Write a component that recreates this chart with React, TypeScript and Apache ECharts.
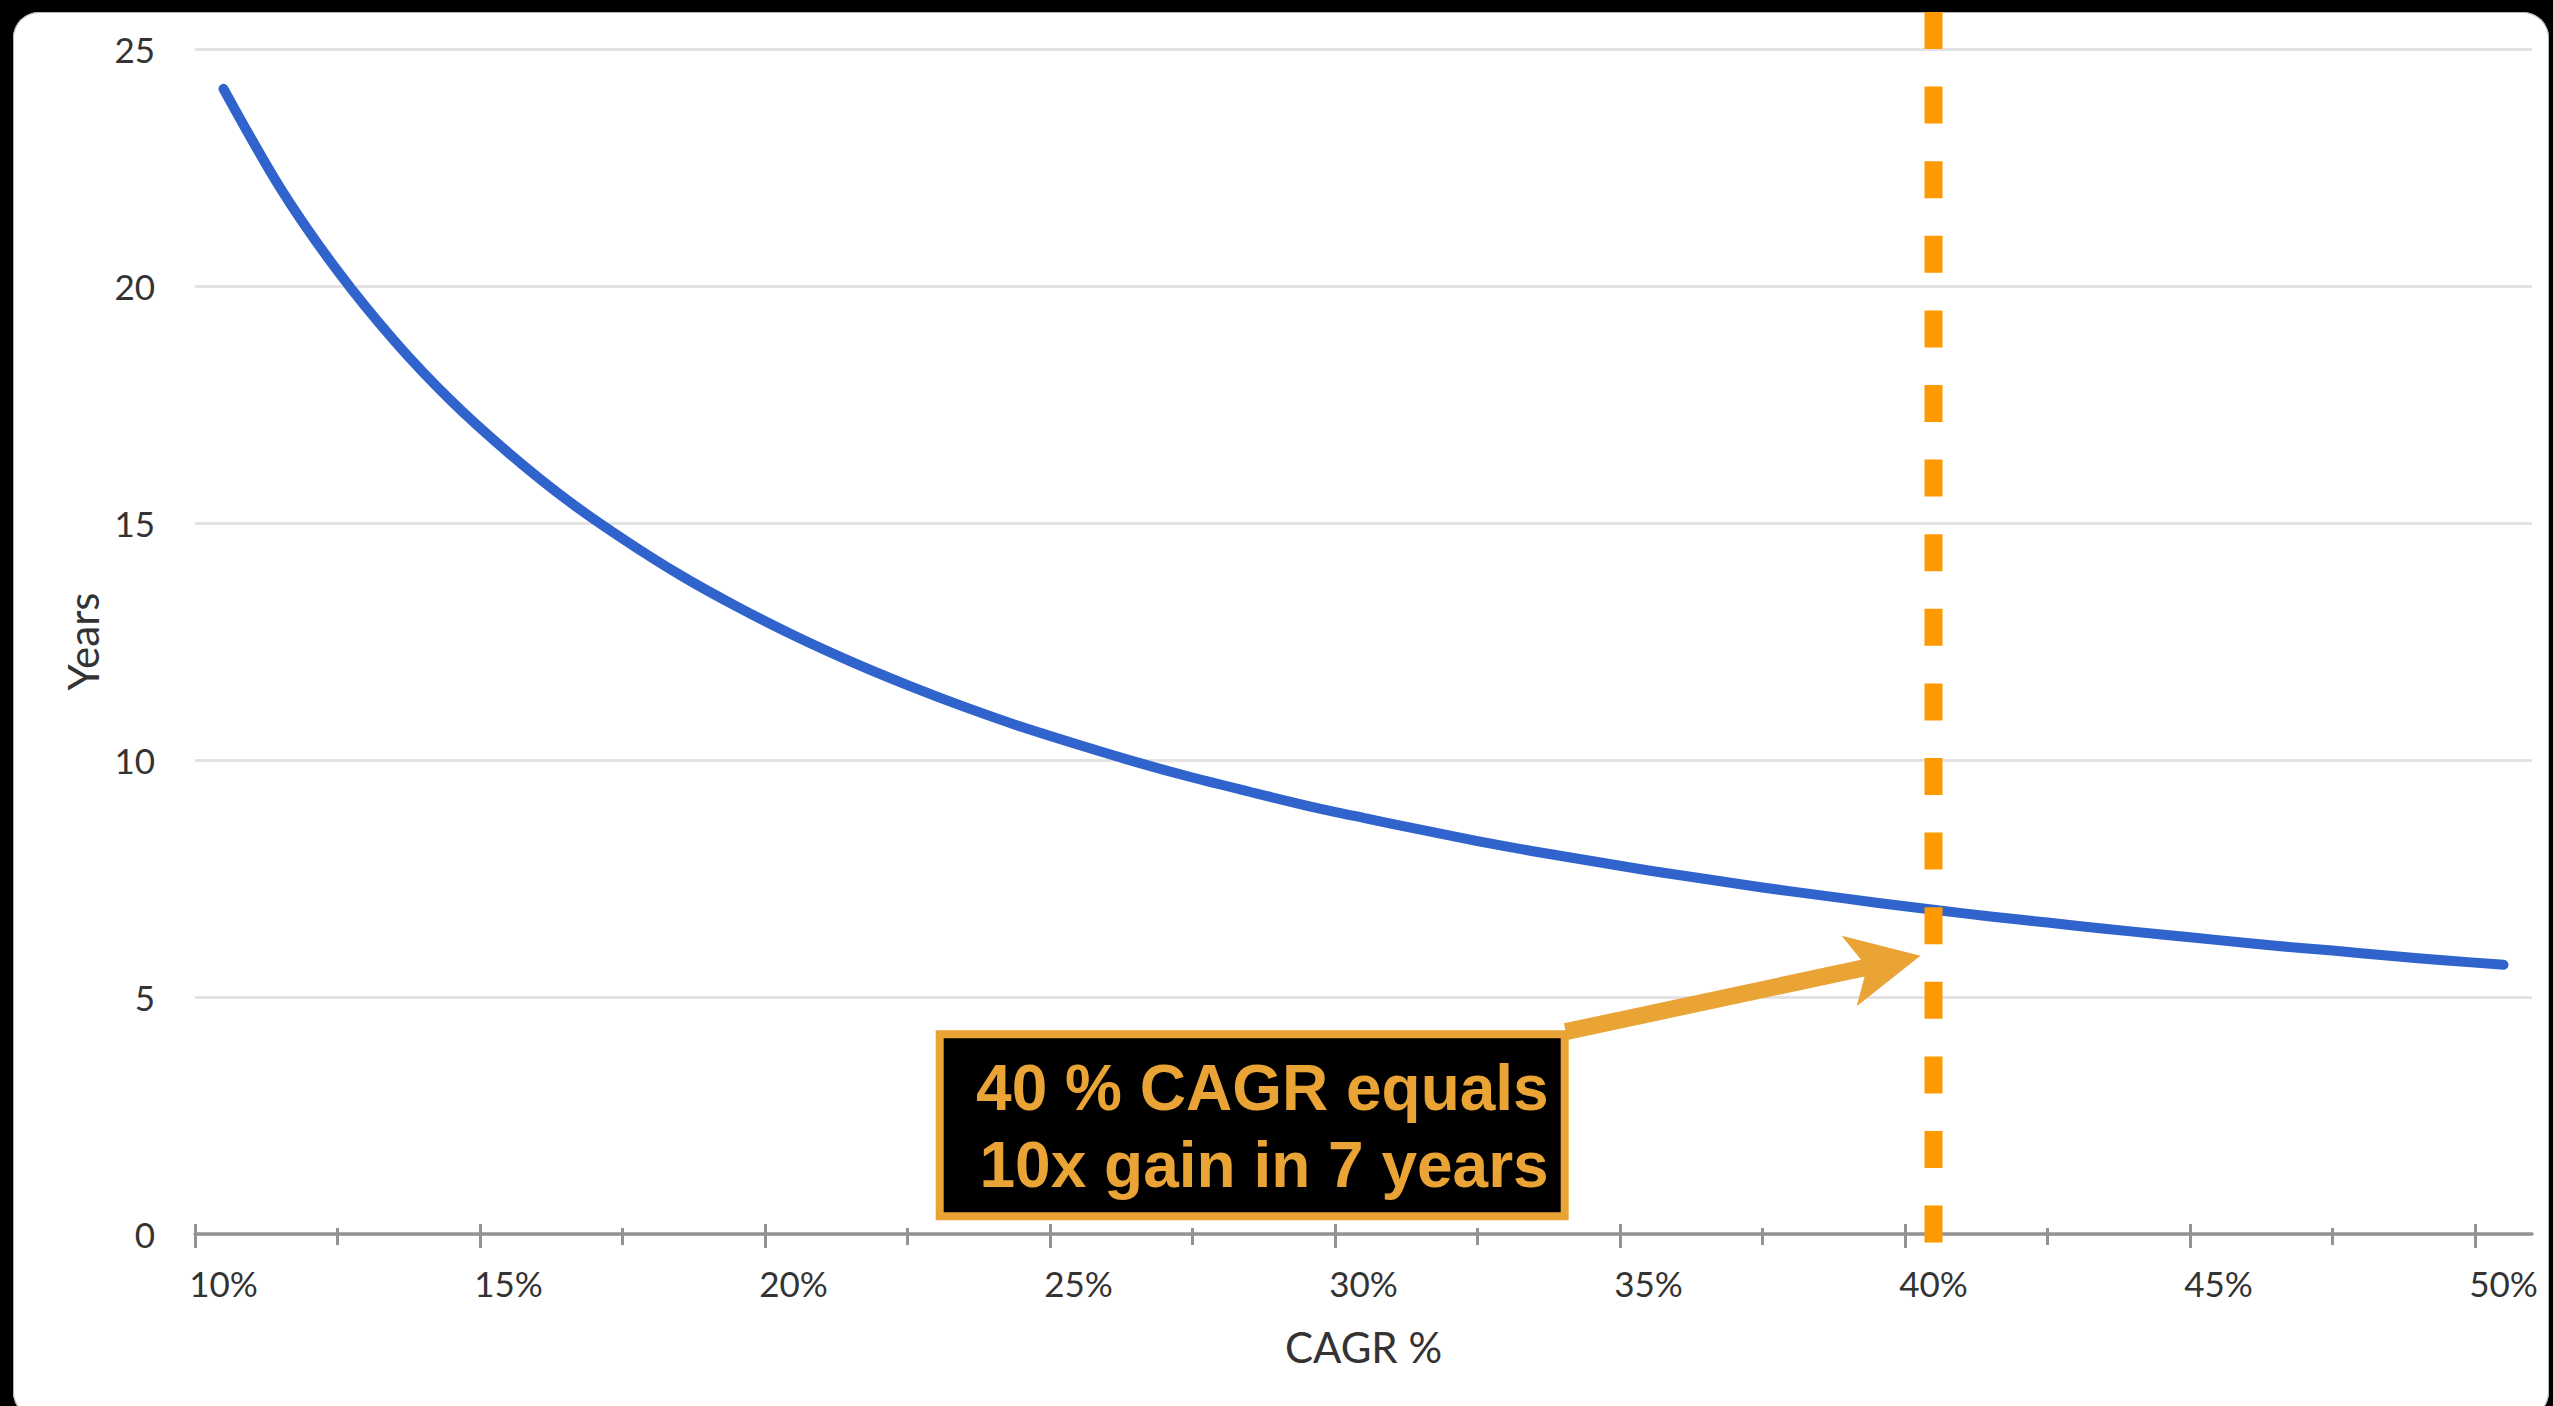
import React, { useEffect, useRef } from "react";
import * as echarts from "echarts";

// Compound annual growth rate (%) and the years needed to grow 10x at that rate
const CAGR_PCT = [
  10, 11, 12, 13, 14, 15, 16, 17, 18, 19, 20, 21, 22, 23, 24, 25, 26, 27, 28, 29, 30,
  31, 32, 33, 34, 35, 36, 37, 38, 39, 40, 41, 42, 43, 44, 45, 46, 47, 48, 49, 50,
];
const YEARS_TO_10X = [
  24.16, 22.06, 20.32, 18.84, 17.57, 16.48, 15.51, 14.67, 13.91, 13.24, 12.63,
  12.08, 11.58, 11.12, 10.7, 10.32, 9.96, 9.63, 9.33, 9.04, 8.78,
  8.53, 8.29, 8.07, 7.87, 7.67, 7.49, 7.31, 7.15, 6.99, 6.84,
  6.7, 6.57, 6.44, 6.32, 6.2, 6.08, 5.98, 5.87, 5.77, 5.68,
];

// Axis furniture
const X_LABEL_VALUES = [10, 15, 20, 25, 30, 35, 40, 45, 50];
const X_MAJOR_TICKS = [9.5, 14.5, 19.5, 24.5, 29.5, 34.5, 39.5, 44.5, 49.5];
const X_MINOR_TICKS = [12, 17, 22, 27, 32, 37, 42, 47];
const X_RANGE = [9.5, 50.5];
const Y_RANGE = [0, 25];
const Y_STEP = 5;

// Callout
const HIGHLIGHT_CAGR = 40;
const CALLOUT_LINES = ["40 % CAGR equals", " 10x gain in 7 years"];
const CALLOUT_CORNER = [33.6, 4.3]; // top-right corner of the callout box (data space)
const ARROW_TIP_YEARS = 5.87;

const W = 2553;
const H = 1406;
const CARD_TOP = 12;

const LINE_BLUE = "#3064cc";
const DASH_ORANGE = "#ff9900";
const CALLOUT_GOLD = "#e9a435";
const AXIS_GREY = "#939393";
const TEXT_DARK = "#333333";
const FONT = "Lato, 'Open Sans', sans-serif";

function tickAxis(values: number[], length: number, inside: boolean) {
  return {
    type: "value",
    gridIndex: 0,
    position: "bottom",
    offset: 0,
    min: X_RANGE[0],
    max: X_RANGE[1],
    axisLine: { show: false },
    splitLine: { show: false },
    axisLabel: { show: false },
    axisTick: {
      show: true,
      inside,
      length,
      customValues: values,
      lineStyle: { color: AXIS_GREY, width: 3 },
    },
  };
}

export default function App() {
  const ref = useRef<HTMLDivElement>(null);

  useEffect(() => {
    const el = ref.current;
    if (!el) return;
    const chart = echarts.init(el, null, { renderer: "svg" });

    chart.setOption({
      animation: false,
      backgroundColor: "transparent",
      grid: {
        left: 195,
        right: 21,
        top: 49,
        bottom: 172,
        containLabel: false,
        outerBoundsMode: "none",
      },
      xAxis: [
        {
          type: "value",
          gridIndex: 0,
          position: "bottom",
          offset: 0,
          min: X_RANGE[0],
          max: X_RANGE[1],
          name: "CAGR %",
          nameLocation: "middle",
          nameGap: 92,
          nameTextStyle: { fontSize: 42, color: TEXT_DARK, fontFamily: FONT },
          axisLine: { show: true, lineStyle: { color: AXIS_GREY, width: 3.5 } },
          splitLine: { show: false },
          axisTick: {
            show: true,
            length: 14,
            customValues: X_MAJOR_TICKS,
            lineStyle: { color: AXIS_GREY, width: 3 },
          },
          axisLabel: {
            show: true,
            customValues: X_LABEL_VALUES,
            formatter: "{value}%",
            fontSize: 35,
            color: TEXT_DARK,
            fontFamily: FONT,
            margin: 31,
          },
        },
        tickAxis(X_MINOR_TICKS, 11, false),
        tickAxis(X_MAJOR_TICKS, 10, true),
        tickAxis(X_MINOR_TICKS, 6, true),
      ],
      yAxis: {
        type: "value",
        min: Y_RANGE[0],
        max: Y_RANGE[1],
        interval: Y_STEP,
        name: "Years",
        nameLocation: "middle",
        nameGap: 90,
        nameTextStyle: { fontSize: 42, color: TEXT_DARK, fontFamily: FONT },
        axisLine: { show: false },
        axisTick: { show: false },
        axisLabel: { fontSize: 35, color: TEXT_DARK, fontFamily: FONT, margin: 40 },
        splitLine: { show: true, lineStyle: { color: "#e3e3e3", width: 3 } },
      },
      series: [
        {
          type: "line",
          xAxisIndex: 0,
          yAxisIndex: 0,
          data: CAGR_PCT.map((c, i) => [c, YEARS_TO_10X[i]]),
          showSymbol: false,
          symbol: "none",
          smooth: 0.3,
          lineStyle: { color: LINE_BLUE, width: 10, cap: "round", join: "round" },
          z: 3,
        },
      ],
    });

    const toPx = (x: number, y: number) =>
      chart.convertToPixel({ xAxisIndex: 0, yAxisIndex: 0 }, [x, y]) as number[];

    const [lineX, axisY] = toPx(HIGHLIGHT_CAGR, 0);
    const tip = [lineX - 13, toPx(HIGHLIGHT_CAGR, ARROW_TIP_YEARS)[1]];
    const [boxRight, boxTop] = toPx(CALLOUT_CORNER[0], CALLOUT_CORNER[1]);
    const boxW = 633;
    const boxH = 190;
    const border = 8;

    // Block arrow from the callout corner to the highlighted rate
    const tail = [boxRight - 3, boxTop + 1.5];
    const dx = tip[0] - tail[0];
    const dy = tip[1] - tail[1];
    const len = Math.hypot(dx, dy);
    const ux = dx / len;
    const uy = dy / len;
    const nx = -uy;
    const ny = ux;
    const P = (a: number, b: number) => [tip[0] + ux * a + nx * b, tip[1] + uy * a + ny * b];
    const arrowPoints = [
      P(0, 0),
      P(-73, -36),
      P(-59, -8.5),
      P(-len, -8.5),
      P(-len, 8.5),
      P(-59, 8.5),
      P(-73, 36),
    ];

    chart.setOption({
      graphic: {
        elements: [
          {
            type: "line",
            z: 50,
            shape: { x1: lineX, y1: CARD_TOP, x2: lineX, y2: axisY + 9 },
            style: { stroke: DASH_ORANGE, lineWidth: 18, lineDash: [37, 37.6], lineCap: "butt" },
          },
          {
            type: "polygon",
            z: 60,
            shape: { points: arrowPoints },
            style: { fill: CALLOUT_GOLD },
          },
          {
            type: "rect",
            z: 61,
            shape: {
              x: boxRight - boxW + border / 2,
              y: boxTop + border / 2,
              width: boxW - border,
              height: boxH - border,
            },
            style: { fill: "#000000", stroke: CALLOUT_GOLD, lineWidth: border },
          },
          ...CALLOUT_LINES.map((t, i) => ({
            type: "text",
            z: 62,
            x: boxRight - 20,
            y: boxTop + 58 + i * 77,
            style: {
              text: t,
              fill: CALLOUT_GOLD,
              fontSize: 64,
              fontWeight: "bold",
              fontFamily: "'Liberation Sans', Arial, sans-serif",
              align: "right",
              verticalAlign: "middle",
            },
          })),
        ],
      },
    });

    return () => chart.dispose();
  }, []);

  return (
    <div
      style={{
        position: "fixed",
        left: 0,
        top: 0,
        width: W,
        height: H,
        background: "#000",
        overflow: "hidden",
      }}
    >
      <div
        style={{
          position: "absolute",
          left: 13,
          top: CARD_TOP,
          width: 2536,
          height: 1406,
          background: "#fff",
          borderRadius: 26,
          boxShadow: "inset 0 0 0 1px #b5b5b5",
        }}
      />
      <div ref={ref} style={{ position: "absolute", left: 0, top: 0, width: W, height: H }} />
    </div>
  );
}
